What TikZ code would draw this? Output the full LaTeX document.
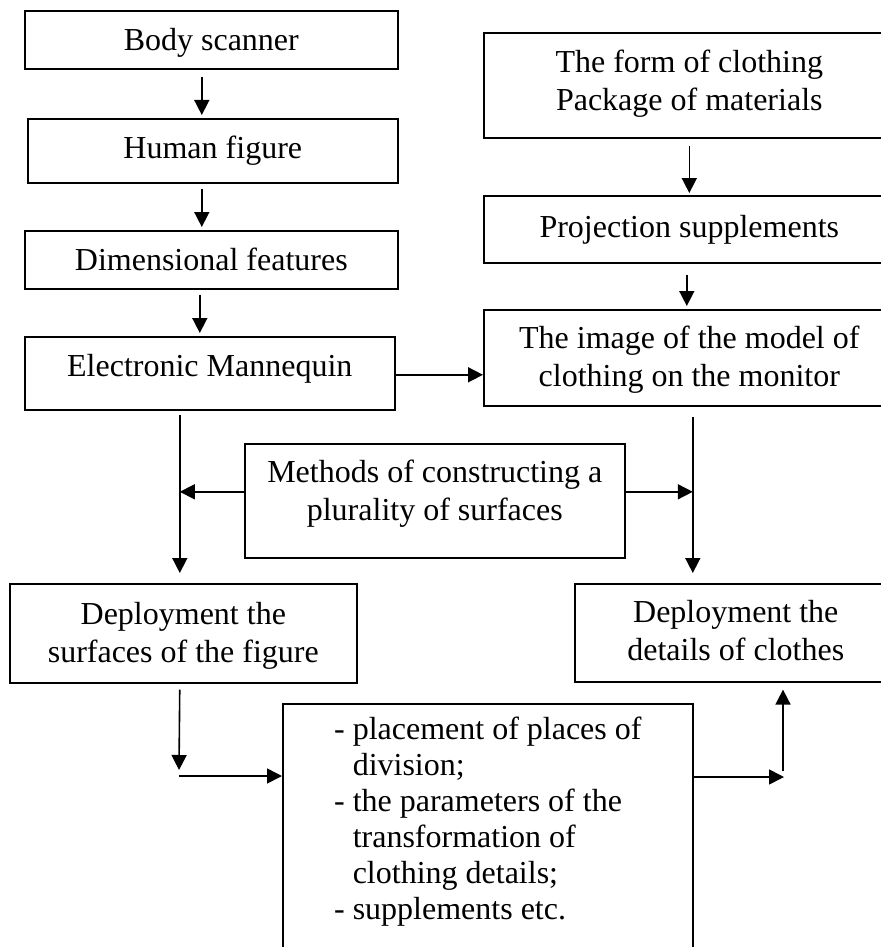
\documentclass[tikz,border=0pt]{standalone}
\usepackage{fontspec}
\setmainfont{Liberation Serif}
\usetikzlibrary{arrows.meta,calc}
\newcommand{\twol}[2]{\begin{tabular}[b]{@{}c@{}}#1\\#2\end{tabular}}
\tikzset{
  box/.style={draw, line width=0.8pt, rectangle, inner sep=0pt, anchor=north west,
    font=\fontsize{16}{19}\selectfont},
  arr/.style={line width=0.8pt, -{Triangle[length=7.5pt,width=7.5pt]}},
}
\begin{document}
\begin{tikzpicture}[x=0.5pt,y=-0.5pt]
\useasboundingbox (0,0) rectangle (881,947);
\clip (0,0) rectangle (881,947);
\fill[white] (0,0) rectangle (881,947);
% left column
\node[box, minimum width=186.5pt, text height=20pt, text depth=9pt] (bs) at (24,10) {Body scanner};
\node[box, minimum width=185pt, text height=20pt, text depth=12pt] (hf) at (27,118) {Human figure};
\node[box, minimum width=186.5pt, text height=20pt, text depth=9pt] (df) at (24,230) {Dimensional features};
\node[box, minimum width=185pt, text height=20pt, text depth=16.5pt] (em) at (24,336) {Electronic Mannequin};
% right column
\node[box, minimum width=205.5pt, text height=39pt, text depth=13.5pt] (form) at (483,32) {\twol{The form of clothing}{Package of materials}};
\node[box, minimum width=205.5pt, text height=21pt, text depth=12.5pt] (proj) at (483,195) {Projection supplements};
\node[box, minimum width=205.5pt, text height=38.5pt, text depth=9.5pt] (img) at (483,309) {\twol{The image of the model of}{clothing on the monitor}};
% middle
\node[box, minimum width=190pt, text height=38.5pt, text depth=18.5pt] (meth) at (244,443) {\twol{Methods of constructing a}{plurality of surfaces}};
\node[box, minimum width=173.5pt, text height=39.5pt, text depth=10pt] (ds) at (9,583) {\twol{Deployment the}{surfaces of the figure}};
\node[box, minimum width=161pt, text height=38.5pt, text depth=10.5pt] (dd) at (574,583) {\twol{Deployment the}{details of clothes}};
\node[box, minimum width=205pt, text height=18pt, text depth=130pt, font=\fontsize{16}{18}\selectfont] (list) at (282,703)
  {\begin{tabular}[t]{@{}l@{}}
   - placement of places of\\
   \phantom{- }division;\\
   - the parameters of the\\
   \phantom{- }transformation of\\
   \phantom{- }clothing details;\\
   - supplements etc.
   \end{tabular}};
% connectors
\draw[arr, shorten <=3.5pt, shorten >=1.5pt] ([xshift=-4.75pt]bs.south) -- ([xshift=-4.75pt]bs.south |- hf.north);
\draw[arr, shorten <=2.5pt, shorten >=1.5pt] ([xshift=-5.5pt]hf.south) -- ([xshift=-5.5pt]hf.south |- df.north);
\draw[arr, shorten <=2.5pt, shorten >=1.5pt] ([xshift=-5.75pt]df.south) -- ([xshift=-5.75pt]df.south |- em.north);
\draw[arr, shorten <=3.5pt, shorten >=1pt] (form.south) -- (proj.north);
\draw[arr, shorten <=5.5pt, shorten >=1.5pt] ([xshift=-1.25pt]proj.south) -- ([xshift=-1.25pt]proj.south |- img.north);
\draw[arr] ([yshift=-0.75pt]em.east) -- ([yshift=-0.75pt]em.east -| img.west);
\coordinate (lv) at ([xshift=-15pt]em.south);
\draw[arr, shorten <=2pt, shorten >=5pt] (lv) -- (lv |- ds.north);
\draw[arr] ([yshift=4.5pt]meth.west) -- ([yshift=4.5pt]meth.west -| lv);
\coordinate (rv) at ([xshift=1.75pt]img.south);
\draw[arr, shorten <=5pt, shorten >=5pt] (rv) -- (rv |- dd.north);
\draw[arr] ([yshift=4.5pt]meth.east) -- ([yshift=4.5pt]meth.east -| rv);
\coordinate (c1) at ([xshift=-1.75pt]ds.south);
\coordinate (c2) at (179,770);
\draw[arr, shorten <=3pt] (c1) -- (c2);
\coordinate (c3) at (179,776);
\draw[arr] (c3) -- (c3 -| list.west);
\coordinate (c4) at (784,777);
\draw[arr] (c4 -| list.east) -- (c4);
\coordinate (c5) at (783,771);
\draw[arr, shorten >=3.5pt] (c5) -- (c5 |- dd.south);
\end{tikzpicture}
\end{document}
